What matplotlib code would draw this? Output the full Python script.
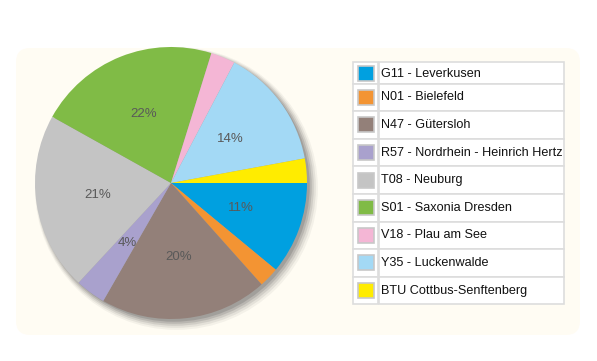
import matplotlib.pyplot as plt
from matplotlib.patches import Rectangle, Circle, FancyBboxPatch

# data (share in %)
labels = ["G11 - Leverkusen", "N01 - Bielefeld", "N47 - Gütersloh",
          "R57 - Nordrhein - Heinrich Hertz", "T08 - Neuburg", "S01 - Saxonia Dresden",
          "V18 - Plau am See", "Y35 - Luckenwalde", "BTU Cottbus-Senftenberg"]
shares = [11.0, 2.4, 19.9, 3.6, 21.2, 21.7, 2.9, 14.4, 2.9]
colors = ["#00A0E0", "#F39433", "#938079", "#A9A1CD", "#C4C4C4",
          "#80BB46", "#F4B6D5", "#A3D9F5", "#FFEC00"]

W, H = 597, 361
fig = plt.figure(figsize=(W / 100, H / 100), dpi=100)
fig.patch.set_facecolor("white")

# cream paper background
bg = fig.add_axes([0, 0, 1, 1])
bg.set_xlim(0, W)
bg.set_ylim(H, 0)
bg.axis("off")
bg.add_patch(FancyBboxPatch((16, 48), 564, 287, boxstyle="round,pad=0,rounding_size=14",
                            facecolor="#FFFCF3", edgecolor="none"))

# pie
cx, cy, r = 171, 183, 136
half = 150
ax = fig.add_axes([(cx - half) / W, (H - cy - half) / H, 2 * half / W, 2 * half / H])
lim = half / r
ax.set_aspect("equal")
ax.axis("off")

# soft shadow, lower right
for i, a in enumerate([0.06, 0.09, 0.12, 0.16, 0.2]):
    off = 0.04 - i * 0.005
    ax.add_patch(Circle((off, -off), 1.0 + 0.01 * (4 - i), facecolor="#444444",
                        edgecolor="none", alpha=a, zorder=0))

def fmt(p):
    return f"{p:.0f}%" if p >= 3.5 else ""

wedges, texts, autotexts = ax.pie(shares, colors=colors, startangle=0, counterclock=False,
                                  autopct=fmt, pctdistance=0.545, radius=1.0,
                                  wedgeprops=dict(linewidth=0),
                                  textprops=dict(color="#595959", fontsize=9.5,
                                                 family="Liberation Sans"))
ax.set_xlim(-lim, lim)
ax.set_ylim(-lim, lim)

# legend drawn as a bordered table
lx0, lx1, sw = 353, 564, 25
top = 62
row_h = 27.6
first_bottom = 83.5
border = "#DDDDDD"
for k, (lab, col) in enumerate(zip(labels, colors)):
    if k == 0:
        y0, y1 = top, first_bottom
    else:
        y0 = first_bottom + (k - 1) * row_h
        y1 = y0 + row_h
    bg.add_patch(Rectangle((lx0, y0), sw, y1 - y0, facecolor="white", edgecolor=border, lw=1.2))
    bg.add_patch(Rectangle((lx0 + sw + 1, y0), lx1 - lx0 - sw - 1, y1 - y0,
                           facecolor="white", edgecolor=border, lw=1.2))
    ym = (y0 + y1) / 2 + (1 if k == 0 else 0)
    bg.add_patch(Rectangle((lx0 + 4.5, ym - 7.5), 16, 15, facecolor=col,
                           edgecolor="#C8C8C8", lw=1.2))
    bg.text(lx0 + sw + 3, ym, lab, fontsize=9.1, family="Liberation Sans",
            color="#111111", va="center", ha="left")

fig.savefig("out.png", dpi=100)
